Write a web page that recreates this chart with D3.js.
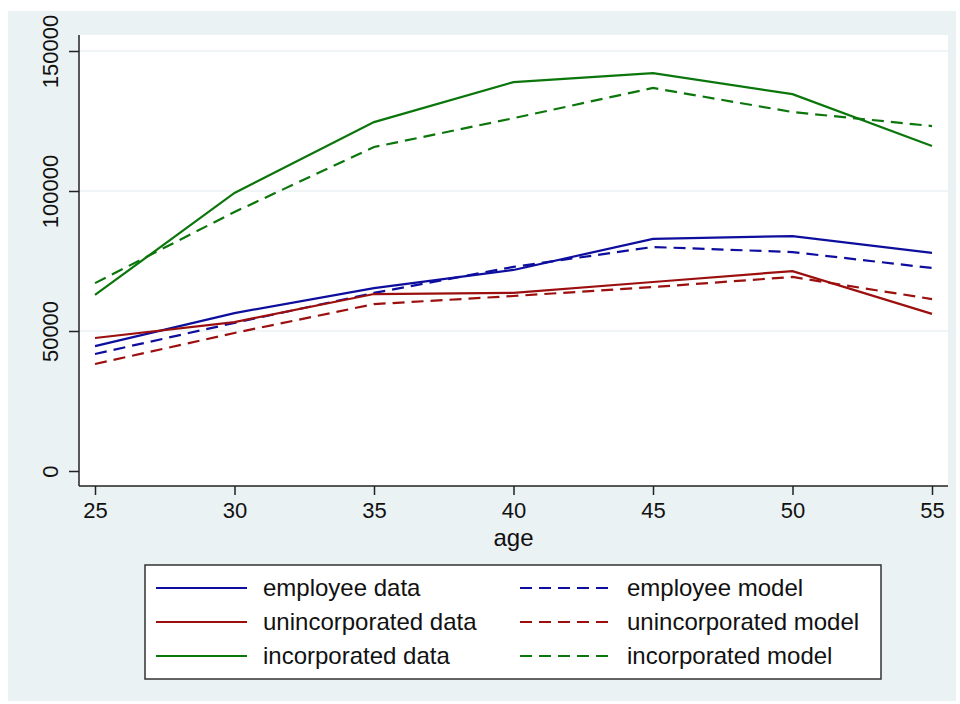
<!DOCTYPE html>
<html>
<head>
<meta charset="utf-8">
<script src="https://cdn.jsdelivr.net/npm/d3@7"></script>
<style>
  body { margin: 0; background: #fff; }
  text { font-family: "Liberation Sans", Arial, sans-serif; fill: #111; }
</style>
</head>
<body>
<div id="chart"></div>
<script>
var W = 960, H = 704;

// ages on the x axis
var ages = [25, 30, 35, 40, 45, 50, 55];
var xTicks = [25, 30, 35, 40, 45, 50, 55];
var yTicks = [0, 50000, 100000, 150000];

// values
var employeeData = [44600, 56400, 65300, 71800, 82900, 83900, 77900];
var employeeModel = [41800, 52900, 63600, 72900, 80000, 78200, 72500];
var unincData = [47500, 53200, 63200, 63600, 67500, 71400, 56100];
var unincModel = [38200, 49300, 59600, 62500, 65700, 69300, 61400];
var incData = [62900, 99300, 124600, 138900, 142100, 134600, 116100];
var incModel = [67100, 92500, 115700, 126000, 136800, 128200, 123200];

var blue = "#0e0e9e", red = "#9c0f0f", green = "#0b760b";

var series = [
  {name: "employee data", values: employeeData, color: blue, dash: null},
  {name: "employee model", values: employeeModel, color: blue, dash: "12,7"},
  {name: "unincorporated data", values: unincData, color: red, dash: null},
  {name: "unincorporated model", values: unincModel, color: red, dash: "12,7"},
  {name: "incorporated data", values: incData, color: green, dash: null},
  {name: "incorporated model", values: incModel, color: green, dash: "12,7"}
];

var svg = d3.select("#chart").append("svg").attr("width", W).attr("height", H);

// outer graph region
svg.append("rect").attr("x", 8).attr("y", 11).attr("width", 948).attr("height", 690)
  .attr("fill", "#eaf2f3");

var plot = {left: 79, top: 35, right: 948, bottom: 486};
svg.append("rect").attr("x", plot.left).attr("y", plot.top)
  .attr("width", plot.right - plot.left).attr("height", plot.bottom - plot.top)
  .attr("fill", "#fff");

var x = d3.scaleLinear().domain([25, 55]).range([95, 932]);
var y = d3.scaleLinear().domain([0, 150000]).range([471, 51]);

// gridlines
svg.append("g").selectAll("line").data(yTicks.filter(function(d){ return d > 0; }))
  .enter().append("line")
  .attr("x1", plot.left).attr("x2", plot.right)
  .attr("y1", function(d){ return y(d); }).attr("y2", function(d){ return y(d); })
  .attr("stroke", "#eaf2f3").attr("stroke-width", 1.5);

// y axis
var yAxis = svg.append("g").attr("transform", "translate(" + plot.left + ",0)")
  .call(d3.axisLeft(y).tickValues(yTicks).tickSize(10).tickFormat(d3.format("d")));
yAxis.select(".domain").attr("d", "M0," + plot.top + "V" + plot.bottom).attr("stroke", "#222").attr("stroke-width", 1.5);
yAxis.selectAll(".tick line").attr("stroke", "#222").attr("stroke-width", 1.5);
yAxis.selectAll(".tick text")
  .attr("x", 0).attr("dy", 0)
  .attr("transform", "translate(-21,0) rotate(-90)")
  .attr("text-anchor", "middle")
  .style("font-size", "22px")
  .style("font-family", "Liberation Sans, Arial, sans-serif")
  .attr("fill", "#111");

// x axis
var xAxis = svg.append("g").attr("transform", "translate(0," + plot.bottom + ")")
  .call(d3.axisBottom(x).tickValues(xTicks).tickSize(9));
xAxis.select(".domain").attr("d", "M" + plot.left + ",0H" + plot.right).attr("stroke", "#222").attr("stroke-width", 1.5);
xAxis.selectAll(".tick line").attr("stroke", "#222").attr("stroke-width", 1.5);
xAxis.selectAll(".tick text")
  .attr("y", 16)
  .style("font-size", "22px")
  .style("font-family", "Liberation Sans, Arial, sans-serif")
  .attr("fill", "#111");

svg.append("text").attr("x", (plot.left + plot.right) / 2).attr("y", 546)
  .attr("text-anchor", "middle").style("font-size", "24px").text("age");

// lines
var line = d3.line()
  .x(function(d, i){ return x(ages[i]); })
  .y(function(d){ return y(d); });

svg.append("g").selectAll("path").data(series).enter().append("path")
  .attr("d", function(d){ return line(d.values); })
  .attr("fill", "none")
  .attr("stroke", function(d){ return d.color; })
  .attr("stroke-width", 2.2)
  .attr("stroke-dasharray", function(d){ return d.dash; });

// legend
var lg = svg.append("g");
lg.append("rect").attr("x", 145).attr("y", 565).attr("width", 736).attr("height", 114)
  .attr("fill", "#fff").attr("stroke", "#333").attr("stroke-width", 1.5);

var item = lg.selectAll("g.item").data(series).enter().append("g")
  .attr("class", "item")
  .attr("transform", function(d, i){
    var col = i % 2, row = Math.floor(i / 2);
    return "translate(" + (col === 0 ? 156 : 520) + "," + (588 + row * 34) + ")";
  });
item.append("line").attr("x1", 0).attr("x2", 91).attr("y1", 0).attr("y2", 0)
  .attr("stroke", function(d){ return d.color; })
  .attr("stroke-width", 2.2)
  .attr("stroke-dasharray", function(d){ return d.dash ? "12,7" : null; });
item.append("text").attr("x", 107).attr("y", 8)
  .style("font-size", "24px")
  .text(function(d){ return d.name; });
</script>
</body>
</html>
